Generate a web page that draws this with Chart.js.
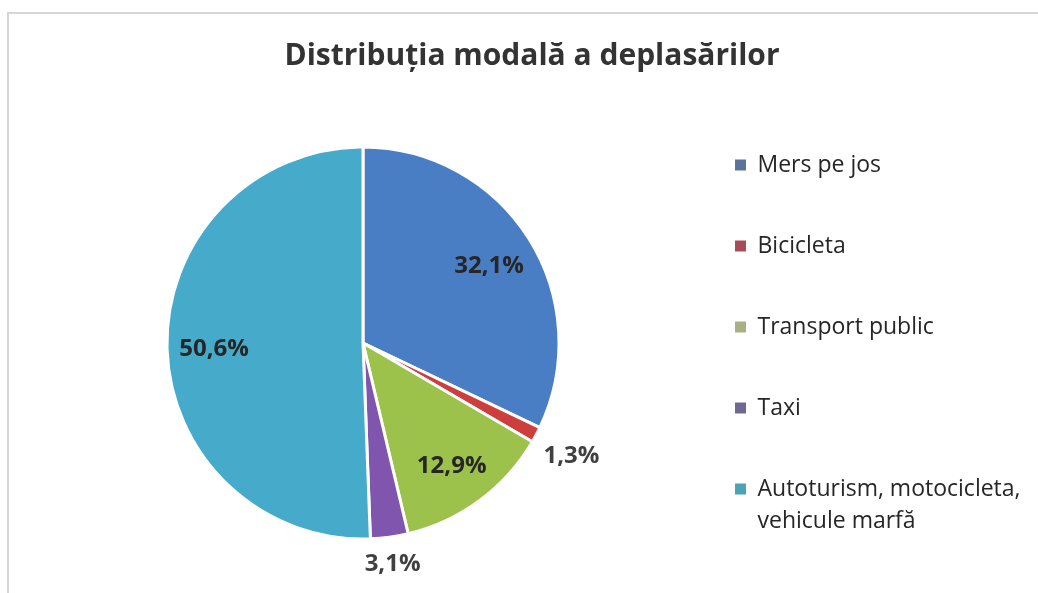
<!DOCTYPE html>
<html lang="ro">
<head>
  <meta charset="UTF-8" />
  <title>Distribuția modală a deplasărilor</title>
  <script src="https://cdn.jsdelivr.net/npm/chart.js"></script>
  <style>
    body {
      margin: 0;
      background: #fff;
      font-family: 'Open Sans', sans-serif;
    }

    .frame {
      position: absolute;
      left: 7px;
      top: 12px;
      width: 1040px;
      height: 600px;
      border-left: 2px solid #d6d6d6;
      border-top: 2px solid #d6d6d6;
    }

    .wrap {
      position: absolute;
      left: 0;
      top: 0;
      width: 1038px;
      height: 593px;
    }
  </style>
</head>
<body>
  <div class="frame"></div>
  <div class="wrap"><canvas id="modalChart"></canvas></div>

  <script>
    const categories = [
      'Mers pe jos',
      'Bicicleta',
      'Transport public',
      'Taxi',
      ['Autoturism, motocicleta,', 'vehicule marfă']
    ];
    const shares = [32.1, 1.3, 12.9, 3.1, 50.6];
    const sliceColors = ['#4a7ec4', '#cc3f3c', '#9cc24b', '#7f55ad', '#46abcb'];
    const markerColors = ['#5b7396', '#a84c5c', '#a9b184', '#6e6892', '#4aa3b6'];

    const pctText = v => v.toFixed(1).replace('.', ',') + '%';

    // percentage labels: inside the big slices, just outside the thin ones
    const sliceLabels = {
      id: 'sliceLabels',
      afterDatasetsDraw(chart) {
        const ctx = chart.ctx;
        const meta = chart.getDatasetMeta(0);
        ctx.save();
        ctx.font = "bold 24px 'Open Sans', sans-serif";
        ctx.textAlign = 'center';
        ctx.textBaseline = 'middle';
        meta.data.forEach((arc, i) => {
          const { x, y, startAngle, endAngle, outerRadius } =
            arc.getProps(['x', 'y', 'startAngle', 'endAngle', 'outerRadius'], true);
          const mid = (startAngle + endAngle) / 2;
          const cos = Math.cos(mid);
          const sin = Math.sin(mid);
          const text = pctText(shares[i]);
          let dist;
          if (shares[i] < 5) {
            const w = ctx.measureText(text).width;
            dist = outerRadius + 11 + Math.abs(cos) * w / 2 + Math.abs(sin) * 9;
            ctx.fillStyle = '#404040';
          } else {
            dist = outerRadius * 0.76;
            ctx.fillStyle = '#262626';
          }
          ctx.fillText(text, x + cos * dist, y + sin * dist + 3);
        });
        ctx.restore();
      }
    };

    new Chart(document.getElementById('modalChart'), {
      type: 'pie',
      data: {
        labels: categories,
        datasets: [{
          data: shares,
          backgroundColor: sliceColors,
          borderColor: '#ffffff',
          borderWidth: 3,
          radius: 196
        }]
      },
      options: {
        responsive: true,
        maintainAspectRatio: false,
        animation: false,
        layout: { padding: { left: 40, right: 14, top: 0, bottom: 0 } },
        plugins: {
          title: {
            display: true,
            text: 'Distribuția modală a deplasărilor',
            color: '#333333',
            font: { family: "'Open Sans', sans-serif", size: 30, weight: 'bold', lineHeight: 1.2 },
            padding: { top: 38, bottom: 19 }
          },
          legend: {
            position: 'right',
            fullSize: false,
            maxWidth: 338,
            // empty spacer title, nudges the item column down a little
            title: { display: true, text: ' ', font: { size: 7.5, lineHeight: 1.2 }, padding: 0 },
            labels: {
              boxWidth: 11,
              boxHeight: 11,
              padding: 49,
              color: '#262626',
              font: { family: "'Open Sans', sans-serif", size: 23, lineHeight: 32 / 23 },
              generateLabels: chart => chart.data.labels.map((label, i) => ({
                text: Array.isArray(label) ? label : [label],
                fillStyle: markerColors[i],
                strokeStyle: markerColors[i],
                lineWidth: 0,
                fontColor: '#262626',
                hidden: false,
                index: i
              }))
            }
          },
          tooltip: { enabled: false }
        }
      },
      plugins: [sliceLabels]
    });
  </script>
</body>
</html>
